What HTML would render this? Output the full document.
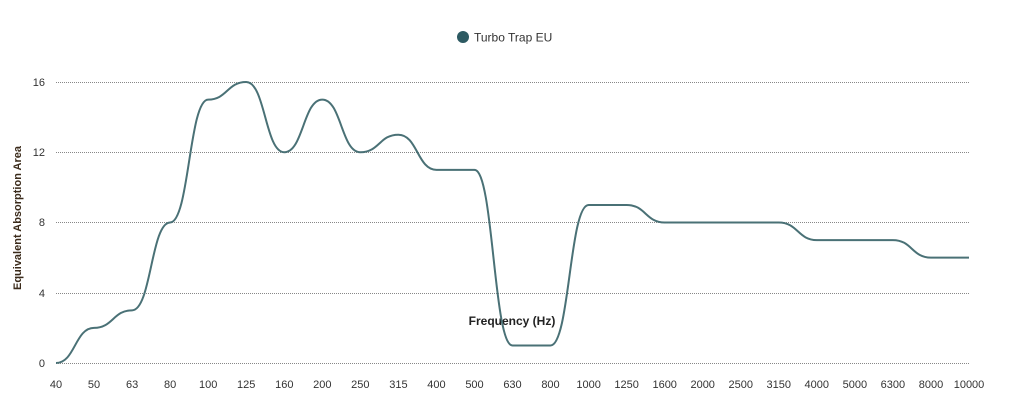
<!DOCTYPE html>
<html><head><meta charset="utf-8"><style>
body{margin:0;background:#fff;}
svg{display:block;font-family:"Liberation Sans",Arial,sans-serif;}
</style></head><body>
<svg width="1009" height="412" viewBox="0 0 1009 412" xmlns="http://www.w3.org/2000/svg">
<circle cx="463" cy="37" r="6" fill="#2d5a62"/>
<text x="474" y="41.5" font-size="12" fill="#333">Turbo Trap EU</text>
<g stroke="#888" stroke-width="1" stroke-dasharray="1,1">
<line x1="56" x2="969" y1="82.5" y2="82.5"/>
<line x1="56" x2="969" y1="152.5" y2="152.5"/>
<line x1="56" x2="969" y1="222.5" y2="222.5"/>
<line x1="56" x2="969" y1="293.5" y2="293.5"/>
<line x1="56" x2="969" y1="363.5" y2="363.5"/>
</g>
<g font-size="11" fill="#333" text-anchor="end">
<text x="45" y="86">16</text><text x="45" y="156">12</text><text x="45" y="226">8</text><text x="45" y="297">4</text><text x="45" y="367">0</text>
</g>
<text transform="translate(21,218) rotate(-90)" font-size="11" font-weight="bold" fill="#3a2a1a" text-anchor="middle">Equivalent Absorption Area</text>
<text x="512" y="325" font-size="12" font-weight="bold" fill="#222" text-anchor="middle">Frequency (Hz)</text>
<g id="xl" font-size="11" fill="#333" text-anchor="middle"></g>
<path id="ln" fill="none" stroke="#4a7176" stroke-width="2"/>
</svg>
<script>
var labels=["40","50","63","80","100","125","160","200","250","315","400","500","630","800","1000","1250","1600","2000","2500","3150","4000","5000","6300","8000","10000"];
var data=[0,2,3,8,15,16,12,15,12,13,11,11,1,1,9,9,8,8,8,8,7,7,7,6,6];
var x0=56,dx=(969-56)/24;
function X(i){return x0+i*dx;} function Y(v){return 363-v*281/16;}
var g=document.getElementById('xl'),s='';
labels.forEach(function(l,i){s+='<text x="'+X(i).toFixed(1)+'" y="388">'+l+'</text>';});
g.innerHTML=s;
var d='M'+X(0)+','+Y(data[0]);
for(var i=1;i<data.length;i++){var xm=(X(i-1)+X(i))/2;d+=' C'+xm+','+Y(data[i-1])+' '+xm+','+Y(data[i])+' '+X(i)+','+Y(data[i]);}
document.getElementById('ln').setAttribute('d',d);
</script>
</body></html>
